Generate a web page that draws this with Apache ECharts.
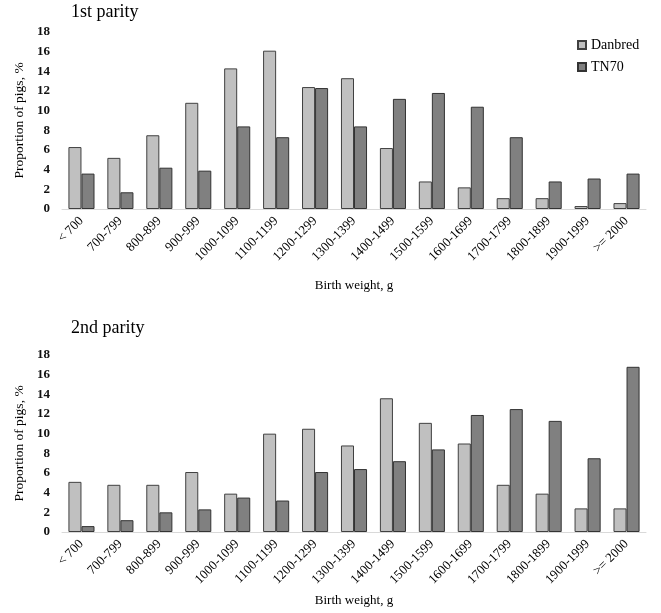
<!DOCTYPE html>
<html><head><meta charset="utf-8">
<script src="https://cdn.jsdelivr.net/npm/echarts@6/dist/echarts.min.js"></script>
<style>html,body{margin:0;padding:0;background:#fff}#c{width:661px;height:613px}</style>
</head><body><div id="c"></div>
<script>
const categories = ['< 700','700-799','800-899','900-999','1000-1099','1100-1199','1200-1299','1300-1399','1400-1499','1500-1599','1600-1699','1700-1799','1800-1899','1900-1999','>= 2000'];
const danbred1 = [6.3, 5.2, 7.5, 10.8, 14.3, 16.1, 12.4, 13.3, 6.2, 2.8, 2.2, 1.1, 1.1, 0.3, 0.6];
const tn70_1   = [3.6, 1.7, 4.2, 3.9, 8.4, 7.3, 12.3, 8.4, 11.2, 11.8, 10.4, 7.3, 2.8, 3.1, 3.6];
const danbred2 = [5.1, 4.8, 4.8, 6.1, 3.9, 10.0, 10.5, 8.8, 13.6, 11.1, 9.0, 4.8, 3.9, 2.4, 2.4];
const tn70_2   = [0.6, 1.2, 2.0, 2.3, 3.5, 3.2, 6.1, 6.4, 7.2, 8.4, 11.9, 12.5, 11.3, 7.5, 16.8];
const yTicks = {min: 0, max: 18, interval: 2};
const titles = ['1st parity', '2nd parity'];

const FONT = '"Liberation Serif", "DejaVu Serif", serif';
const chart = echarts.init(document.getElementById('c'), null, {renderer: 'canvas'});
const lightStyle = {color: '#c0c0c0', borderColor: '#404040', borderWidth: 1};
const darkStyle = {color: '#808080', borderColor: '#333333', borderWidth: 1};
function xAx(gi, gap) {
  return {
    type: 'category', gridIndex: gi, data: categories,
    axisLine: {lineStyle: {color: '#d9d9d9', width: 1}},
    axisTick: {show: false},
    axisLabel: {rotate: 45, interval: 0, fontFamily: FONT, fontSize: 13, color: '#000', margin: 10},
    name: 'Birth weight, g', nameLocation: 'middle', nameGap: gap,
    nameTextStyle: {fontFamily: FONT, fontSize: 13, color: '#000'}
  };
}
function yAx(gi) {
  return {
    type: 'value', gridIndex: gi, min: yTicks.min, max: yTicks.max, interval: yTicks.interval,
    axisLine: {show: false}, axisTick: {show: false}, splitLine: {show: false},
    axisLabel: {fontFamily: FONT, fontSize: 13, fontWeight: 'bold', color: '#111', margin: 12},
    name: 'Proportion of pigs, %', nameLocation: 'middle', nameGap: 32,
    nameTextStyle: {fontFamily: FONT, fontSize: 13.5, color: '#000'}
  };
}
chart.setOption({
  animation: false,
  textStyle: {fontFamily: FONT},
  title: [
    {text: titles[0], left: 66, top: -2, textStyle: {fontFamily: FONT, fontSize: 18, fontWeight: 'normal', color: '#000'}},
    {text: titles[1], left: 66, top: 314, textStyle: {fontFamily: FONT, fontSize: 18, fontWeight: 'normal', color: '#000'}}
  ],
  legend: {
    data: ['Danbred', 'TN70'], orient: 'vertical', left: 572, top: 33, itemGap: 8,
    itemWidth: 8, itemHeight: 8, icon: 'rect',
    textStyle: {fontFamily: FONT, fontSize: 14, color: '#000'}
  },
  grid: [
    {left: 62, right: 15, top: 32, height: 177},
    {left: 62, right: 15, top: 355, height: 177}
  ],
  xAxis: [xAx(0, 70), xAx(1, 62)],
  yAxis: [yAx(0), yAx(1)],
  series: [
    {name: 'Danbred', type: 'bar', xAxisIndex: 0, yAxisIndex: 0, data: danbred1, itemStyle: lightStyle, barGap: '0%', barCategoryGap: '33%'},
    {name: 'TN70', type: 'bar', xAxisIndex: 0, yAxisIndex: 0, data: tn70_1, itemStyle: darkStyle, barGap: '0%', barCategoryGap: '33%'},
    {name: 'Danbred', type: 'bar', xAxisIndex: 1, yAxisIndex: 1, data: danbred2, itemStyle: lightStyle, barGap: '0%', barCategoryGap: '33%'},
    {name: 'TN70', type: 'bar', xAxisIndex: 1, yAxisIndex: 1, data: tn70_2, itemStyle: darkStyle, barGap: '0%', barCategoryGap: '33%'}
  ]
});
</script></body></html>
